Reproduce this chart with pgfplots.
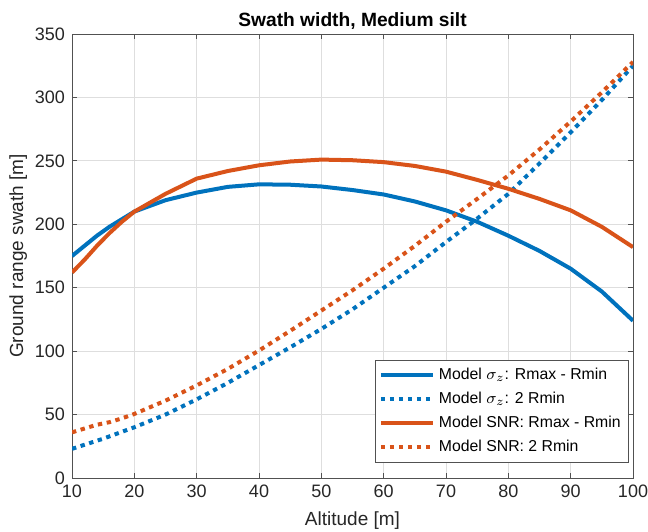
\documentclass[border=0pt]{standalone}
\usepackage{fontspec}
\setmainfont{Liberation Sans}
\usepackage{pgfplots}
\pgfplotsset{compat=1.18}
\definecolor{mblue}{RGB}{0,114,189}
\definecolor{morange}{RGB}{217,83,25}
\definecolor{axgray}{RGB}{38,38,38}
\begin{document}
\begin{tikzpicture}
\begin{axis}[
    scale only axis,
    width=280.5pt, height=222pt,
    xmin=10, xmax=100, ymin=0, ymax=350,
    xtick={10,20,...,100}, ytick={0,50,...,350},
    grid=major,
    major grid style={draw=black!13, line width=0.4pt},
    axis line style={draw=axgray!80, line width=0.5pt},
    tick style={draw=axgray!80, line width=0.5pt},
    tick align=inside,
    major tick length=2.5pt,
    ticklabel style={font=\fontsize{9}{10}\selectfont, text=axgray},
    /pgf/number format/assume math mode=true,
    xlabel={Altitude [m]},
    ylabel={Ground range swath [m]},
    ylabel shift=-3pt,
    label style={font=\fontsize{9.5}{11}\selectfont, text=axgray},
    title={\textbf{Swath width, Medium silt}},
    title style={font=\fontsize{9.6}{11}\selectfont, yshift=-7.5pt},
    legend cell align=left,
    legend style={at={(rel axis cs:0.993,0.034)}, anchor=south east,
        draw=axgray!80, fill=white, font=\fontsize{7.9}{9}\selectfont,
        row sep=0.8pt, inner sep=2pt},
    legend image code/.code={\draw[#1] (0cm,0cm) -- (26pt,0cm);},
]
\addplot[mblue, line width=2pt] coordinates {
(10,175) (12,183) (14,191) (16,198) (18,204) (20,210) (25,219) (30,225)
(35,229.5) (40,231.5) (45,231.2) (50,229.8) (55,227) (60,223.5)
(65,218) (70,211) (75,202) (80,191) (85,179) (90,165) (95,147) (100,124)
};
\addlegendentry{Model $\sigma_z$: Rmax - Rmin}
\addplot[mblue, line width=2pt, dash pattern=on 2.2pt off 2.3pt] coordinates {
(10,23) (15,31) (20,40) (25,50) (30,62) (35,75) (40,89) (45,103)
(50,117.5) (55,133) (60,150) (65,167) (70,186) (75,204.5) (80,224)
(85,248) (90,272.5) (95,298) (100,325)
};
\addlegendentry{Model $\sigma_z$: 2 Rmin}
\addplot[morange, line width=2pt] coordinates {
(10,162) (12,172) (14,183) (16,193) (18,202) (20,210) (25,224) (30,236)
(35,242) (40,246.5) (45,249.5) (50,251) (55,250.5) (60,249) (65,246)
(70,241.5) (75,235) (80,228) (85,220) (90,211) (95,198) (100,182)
};
\addlegendentry{Model SNR: Rmax - Rmin}
\addplot[morange, line width=2pt, dash pattern=on 2.2pt off 2.3pt] coordinates {
(10,36) (12,39) (14,42) (16,44) (18,47) (20,50.5) (25,61) (30,73)
(35,86) (40,100.5) (45,116) (50,132) (55,148) (60,165) (65,183)
(70,202) (75,220) (80,238.5) (85,259) (90,281) (95,304) (100,328)
};
\addlegendentry{Model SNR: 2 Rmin}
\end{axis}
\pgfresetboundingbox
\useasboundingbox ([shift={(-36pt,-26.5pt)}]current axis.south west) rectangle ([shift={(7.5pt,17pt)}]current axis.north east);
\end{tikzpicture}
\end{document}
